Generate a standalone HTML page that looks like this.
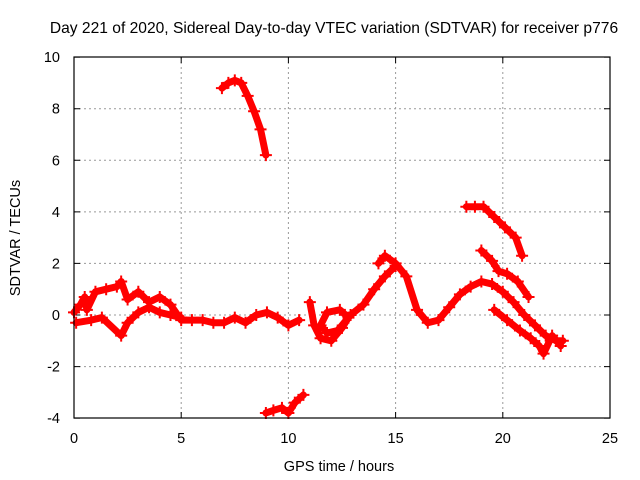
<!DOCTYPE html>
<html><head><meta charset="utf-8"><style>
body{margin:0;background:#fff}
svg{display:block;font-family:"Liberation Sans",sans-serif}
</style></head><body>
<svg id="chart" width="640" height="480" viewBox="0 0 640 480">
<text x="334" y="33" text-anchor="middle" font-size="15.6">Day 221 of 2020, Sidereal Day-to-day VTEC variation (SDTVAR) for receiver p776</text>
<g id="grid"></g>
<g id="ticks"></g>
<g id="marks"></g>
<rect x="74" y="57" width="536" height="361" fill="none" stroke="#000" stroke-width="1.2"/>
<text x="339" y="471" text-anchor="middle" font-size="14.5">GPS time / hours</text>
<text transform="translate(20,238) rotate(-90)" text-anchor="middle" font-size="14.5">SDTVAR / TECUs</text>
</svg>
<script>
const xTicks=[0,5,10,15,20,25];
const yTicks=[-4,-2,0,2,4,6,8,10];
const trackHigh=[[6.9,8.8],[7.2,9.0],[7.5,9.1],[7.8,9.0],[8.1,8.5],[8.4,7.9],[8.7,7.2],[8.95,6.2]];
const trackLow=[[8.95,-3.8],[9.3,-3.7],[9.7,-3.6],[10.0,-3.8],[10.3,-3.4],[10.7,-3.1]];
const trackRight1=[[18.3,4.2],[18.7,4.2],[19.1,4.2],[19.6,3.8],[20.1,3.4],[20.6,3.0],[20.9,2.3]];
const trackRight2=[[19.0,2.5],[19.5,2.1],[19.8,1.7],[20.2,1.6],[20.7,1.3],[21.2,0.7]];
const trackMain=[[0.0,0.1],[0.3,0.4],[0.5,0.7],[0.6,0.2],[1.0,0.9],[1.5,1.0],[2.0,1.1],[2.2,1.3],[2.5,0.6],[3.0,0.9],[3.5,0.5],[4.0,0.7],[4.5,0.4],[5.0,-0.2],[5.5,-0.2],[6.0,-0.2],[6.5,-0.3],[7.0,-0.3],[7.5,-0.1],[8.0,-0.3],[8.5,0.0],[9.0,0.1],[9.5,-0.1],[10.0,-0.4],[10.5,-0.2]];
const trackLower=[[0.1,-0.3],[0.8,-0.2],[1.3,-0.1],[2.2,-0.8],[2.5,-0.3],[3.0,0.1],[3.5,0.3],[4.0,0.1],[4.5,0.0],[5.0,-0.1]];
const trackLoops=[[11.0,0.5],[11.2,-0.4],[11.5,-0.9],[12.0,-1.0],[12.5,-0.5],[12.8,-0.1],[12.4,0.2],[11.8,0.1],[11.5,-0.4],[11.8,-0.7],[12.3,-0.6],[12.9,0.0],[13.5,0.4],[14.0,1.0],[14.5,1.5],[15.0,1.9]];
const trackSwing=[[14.2,2.0],[14.5,2.3],[15.0,2.0],[15.5,1.5],[16.0,0.2],[16.5,-0.3],[17.0,-0.2],[17.5,0.3],[18.0,0.8],[18.5,1.1],[19.0,1.3],[19.5,1.2],[20.0,0.9],[20.5,0.5],[21.0,0.0],[21.5,-0.4],[22.0,-0.8],[22.5,-1.0],[22.8,-1.0]];
const trackTail=[[19.6,0.2],[20.2,-0.2],[20.8,-0.6],[21.3,-0.9],[21.7,-1.2],[21.9,-1.5],[22.3,-0.8],[22.7,-1.2]];
const series=[trackHigh,trackLow,trackRight1,trackRight2,trackMain,trackLower,trackLoops,trackSwing,trackTail];
const X=t=>74+t*536/25, Y=v=>315-v*361/14;
const NS='http://www.w3.org/2000/svg';
function mk(tag,attrs,parent){const e=document.createElementNS(NS,tag);for(const k in attrs)e.setAttribute(k,attrs[k]);parent.appendChild(e);return e;}
const grid=document.getElementById('grid'),ticks=document.getElementById('ticks'),marks=document.getElementById('marks');
xTicks.forEach(t=>{
  if(t>0&&t<25){const g=mk('line',{x1:X(t),x2:X(t),y1:57,y2:418,stroke:'#999','stroke-dasharray':'2,3'},grid);
  
  }
  const tk=mk('path',{d:`M${X(t)},418v-6M${X(t)},57v6`,stroke:'#000'},ticks);
  
  
  const l=mk('text',{x:X(t),y:443,'text-anchor':'middle','font-size':'14.5'},ticks);l.textContent=t;
  
  
});
yTicks.forEach(v=>{
  if(v>-4&&v<10){const g=mk('line',{x1:74,x2:610,y1:Y(v),y2:Y(v),stroke:'#999','stroke-dasharray':'2,3'},grid);
  
  }
  const tk=mk('path',{d:`M74,${Y(v)}h6M610,${Y(v)}h-6`,stroke:'#000'},ticks);
  
  
  const l=mk('text',{x:60,y:Y(v)+5,'text-anchor':'end','font-size':'14.5'},ticks);l.textContent=v;
  
  
});
series.forEach((s,i)=>{
  const p=mk('polyline',{points:s.map(d=>X(d[0])+','+Y(d[1])).join(' '),fill:'none',stroke:'#f00','stroke-width':7,'stroke-linejoin':'round','stroke-linecap':'round'},marks);
  
  
  s.forEach(d=>{
    const x=X(d[0]),y=Y(d[1]);
    const m=mk('path',{d:`M${x-6},${y}h12M${x},${y-6}v12`,stroke:'#f00','stroke-width':2},marks);
    
    
  });
});
</script>
</body></html>
